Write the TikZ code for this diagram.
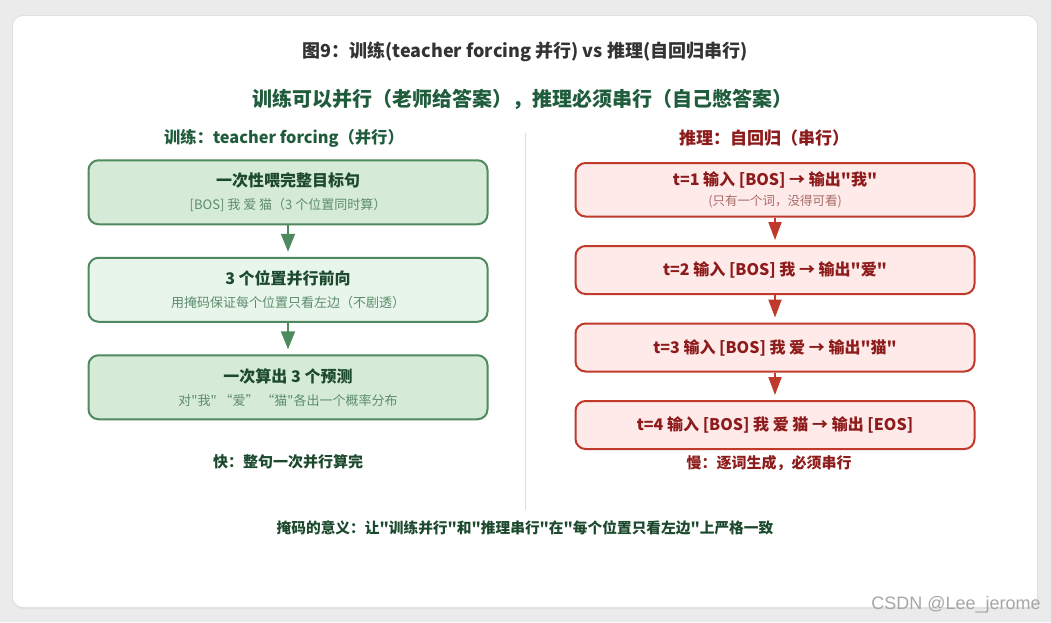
\documentclass[tikz,border=0pt]{standalone}
\usepackage{fontspec}
\setmainfont{Noto Sans CJK SC}[Ligatures=TeXOff]
\newfontfamily\markfont{Liberation Sans}
\usetikzlibrary{positioning,arrows.meta}
\definecolor{pagegray}{HTML}{EBEBEB}
\definecolor{cardshadow}{HTML}{E0E0E0}
\definecolor{titlegray}{HTML}{333333}
\definecolor{deepgreen}{HTML}{1F5C3B}
\definecolor{trainline}{HTML}{4E8A5E}
\definecolor{trainfill}{HTML}{D5EBD7}
\definecolor{trainfilllight}{HTML}{E7F5EB}
\definecolor{traintext}{HTML}{1D4A2E}
\definecolor{trainsub}{HTML}{5E8C6C}
\definecolor{inferline}{HTML}{C0392B}
\definecolor{inferfill}{HTML}{FDEAE9}
\definecolor{infertext}{HTML}{8E1B1B}
\definecolor{infersub}{HTML}{A86A66}
\definecolor{dividergray}{HTML}{DDDDDD}
\tikzset{basic/.style={draw,line width=2pt,rounded corners=10pt,align=center,inner sep=0pt,minimum width=399pt}}
\tikzset{trainbox/.style={basic,draw=trainline,fill=trainfill,minimum height=64pt,text=traintext,font=\fontsize{16}{23}\selectfont}}
\tikzset{inferbox/.style={basic,draw=inferline,fill=inferfill,minimum height=48pt,text=infertext,font=\fontsize{16}{20}\selectfont\bfseries}}
\tikzset{heading/.style={font=\fontsize{17}{20}\selectfont\bfseries}}
\tikzset{note/.style={font=\fontsize{15}{18}\selectfont\bfseries}}
\tikzset{arrow/.style={draw,line width=2pt,shorten >=5pt}}
\tikzset{trainarrow/.style={arrow,trainline,-{Triangle[length=18pt,width=14pt]}}}
\tikzset{inferarrow/.style={arrow,inferline,-{Triangle[length=18pt,width=13pt]}}}

\begin{document}
\begin{tikzpicture}[x=1pt,y=-1pt,node distance=97.5pt]
    % page and card
    \fill[pagegray] (0,0) rectangle (1051,622);
    \fill[cardshadow,rounded corners=11pt] (12,15) rectangle (1038,609);
    \fill[white,rounded corners=10pt] (13,16) rectangle (1037,607);
    \draw[dividergray,line width=1pt] (525,133) -- (525,510);

    \node[font=\fontsize{18}{21}\selectfont\bfseries,text=titlegray] (title) at (525,52) {图9：训练(teacher forcing 并行) vs 推理(自回归串行)};
    \node[font=\fontsize{20}{23}\selectfont\bfseries,text=deepgreen] (motto) at (522,99) {训练可以并行（老师给答案），推理必须串行（自己憋答案）};

    % training column
    \node[heading,font=\fontsize{16.3}{20}\selectfont\bfseries,text=deepgreen] (trainhead) at (284,138) {训练：teacher forcing（并行）};
    \node[trainbox] (feed) at (288,192.25) {{\bfseries 一次性喂完整目标句}\\{\fontsize{13}{23}\selectfont\color{trainsub}[BOS] 我 爱 猫（3 个位置同时算）}};
    \node[trainbox,fill=trainfilllight,below of=feed] (mask) {{\bfseries 3 个位置并行前向}\\{\fontsize{13}{23}\selectfont\color{trainsub}用掩码保证每个位置只看左边（不剧透）}};
    \node[trainbox,below of=mask] (predict) {{\bfseries 一次算出 3 个预测}\\{\fontsize{13}{23}\selectfont\color{trainsub}对"我" “爱” “猫"各出一个概率分布}};
    \node[note,text=traintext] (fast) at (288,462) {快：整句一次并行算完};

    % inference column
    \node[heading,text=infertext] (inferhead) at (764,138) {推理：自回归（串行）};
    \node[inferbox,minimum height=53.5pt] (t1) at (775,189.75) {t=1 输入 [BOS] → 输出"我"\\{\fontsize{12.5}{20}\selectfont\mdseries\color{infersub}(只有一个词，没得可看)}};
    \node[inferbox,below of=t1,node distance=80.25pt] (t2) {t=2 输入 [BOS] 我 → 输出"爱"};
    \node[inferbox,below of=t2,node distance=77.5pt] (t3) {t=3 输入 [BOS] 我 爱 → 输出"猫"};
    \node[inferbox,below of=t3,node distance=77.5pt] (t4) {t=4 输入 [BOS] 我 爱 猫 → 输出 [EOS]};
    \node[note,text=infertext] (slow) at (769,463) {慢：逐词生成，必须串行};

    \node[note,font=\fontsize{14.7}{18}\selectfont\bfseries,text=traintext] (meaning) at (525,528) {掩码的意义：让"训练并行"和"推理串行"在"每个位置只看左边"上严格一致};
    \node[font=\markfont\fontsize{18}{20}\selectfont,text=black!35] (mark) at (956,605) {CSDN @Lee\_jerome};

        \path[trainarrow] (feed) -- (mask);
        \path[trainarrow] (mask) -- (predict);
        \path[inferarrow] (t1) -- (t2);
        \path[inferarrow] (t2) -- (t3);
        \path[inferarrow] (t3) -- (t4);
\end{tikzpicture}
\end{document}
